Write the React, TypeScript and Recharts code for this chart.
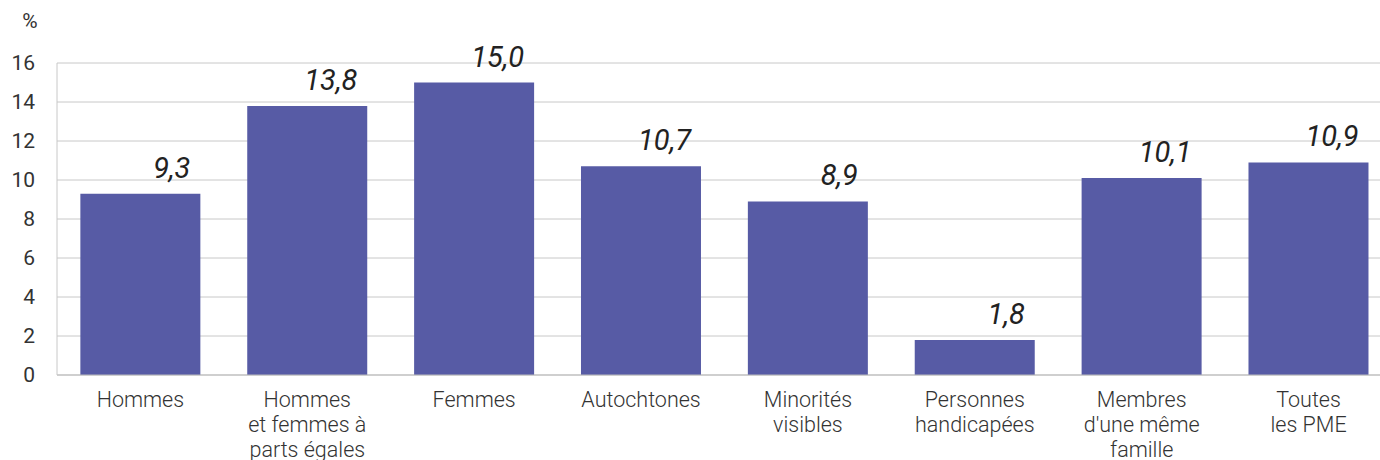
import React from 'react'
import {
  BarChart,
  Bar,
  XAxis,
  YAxis,
  CartesianGrid,
  LabelList,
} from 'recharts'

const categories = [
  'Hommes',
  'Hommes\net femmes à\nparts égales',
  'Femmes',
  'Autochtones',
  'Minorités\nvisibles',
  'Personnes\nhandicapées',
  "Membres\nd'une même\nfamille",
  'Toutes\nles PME',
]
const values = [9.3, 13.8, 15.0, 10.7, 8.9, 1.8, 10.1, 10.9]
const yTicks = [0, 2, 4, 6, 8, 10, 12, 14, 16]

const data = categories.map((name, i) => ({ name, value: values[i] }))

const FONT = 'Roboto, "Noto Sans", sans-serif'

const CategoryTick = (props: any) => {
  const { x, y, payload } = props
  const lines = String(payload.value).split('\n')
  return (
    <text
      x={x}
      y={y + 24}
      textAnchor="middle"
      fill="#333"
      fontFamily={FONT}
      fontWeight={300}
      fontSize={21.5}
    >
      {lines.map((line, i) => (
        <tspan key={i} x={x} dy={i === 0 ? 0 : 25}>
          {line}
        </tspan>
      ))}
    </text>
  )
}

const ValueLabel = (props: any) => {
  const { x, y, width, value } = props
  return (
    <text
      x={x + width - 10}
      y={y - 16}
      textAnchor="end"
      fill="#222"
      fontFamily={FONT}
      fontStyle="italic"
      fontSize={29}
    >
      {value.toFixed(1).replace('.', ',')}
    </text>
  )
}

export default function App() {
  return (
    <div style={{ position: 'absolute', left: 0, top: 0, overflow: 'hidden', width: 1380, height: 460 }}>
      <BarChart
        width={1380}
        height={460}
        data={data}
        margin={{ top: 63, right: -12, left: 0, bottom: 0 }}
        barCategoryGap="14%"
      >
        <CartesianGrid vertical={false} stroke="#c8c8c8" />
        <XAxis
          dataKey="name"
          height={85}
          interval={0}
          tickLine={false}
          axisLine={{ stroke: '#bbb' }}
          tick={<CategoryTick />}
        />
        <YAxis
          width={57}
          domain={[0, 16]}
          ticks={yTicks}
          tickSize={0}
          tickMargin={22}
          axisLine={{ stroke: '#c8c8c8' }}
          tick={{ fill: '#333', fontSize: 21, fontFamily: FONT }}
          label={{
            content: () => (
              <text
                x={30}
                y={28}
                textAnchor="middle"
                fill="#333"
                fontFamily={FONT}
                fontSize={21}
              >
                %
              </text>
            ),
          }}
        />
        <Bar dataKey="value" fill="#575ba5" isAnimationActive={false}>
          <LabelList dataKey="value" content={<ValueLabel />} />
        </Bar>
      </BarChart>
    </div>
  )
}
